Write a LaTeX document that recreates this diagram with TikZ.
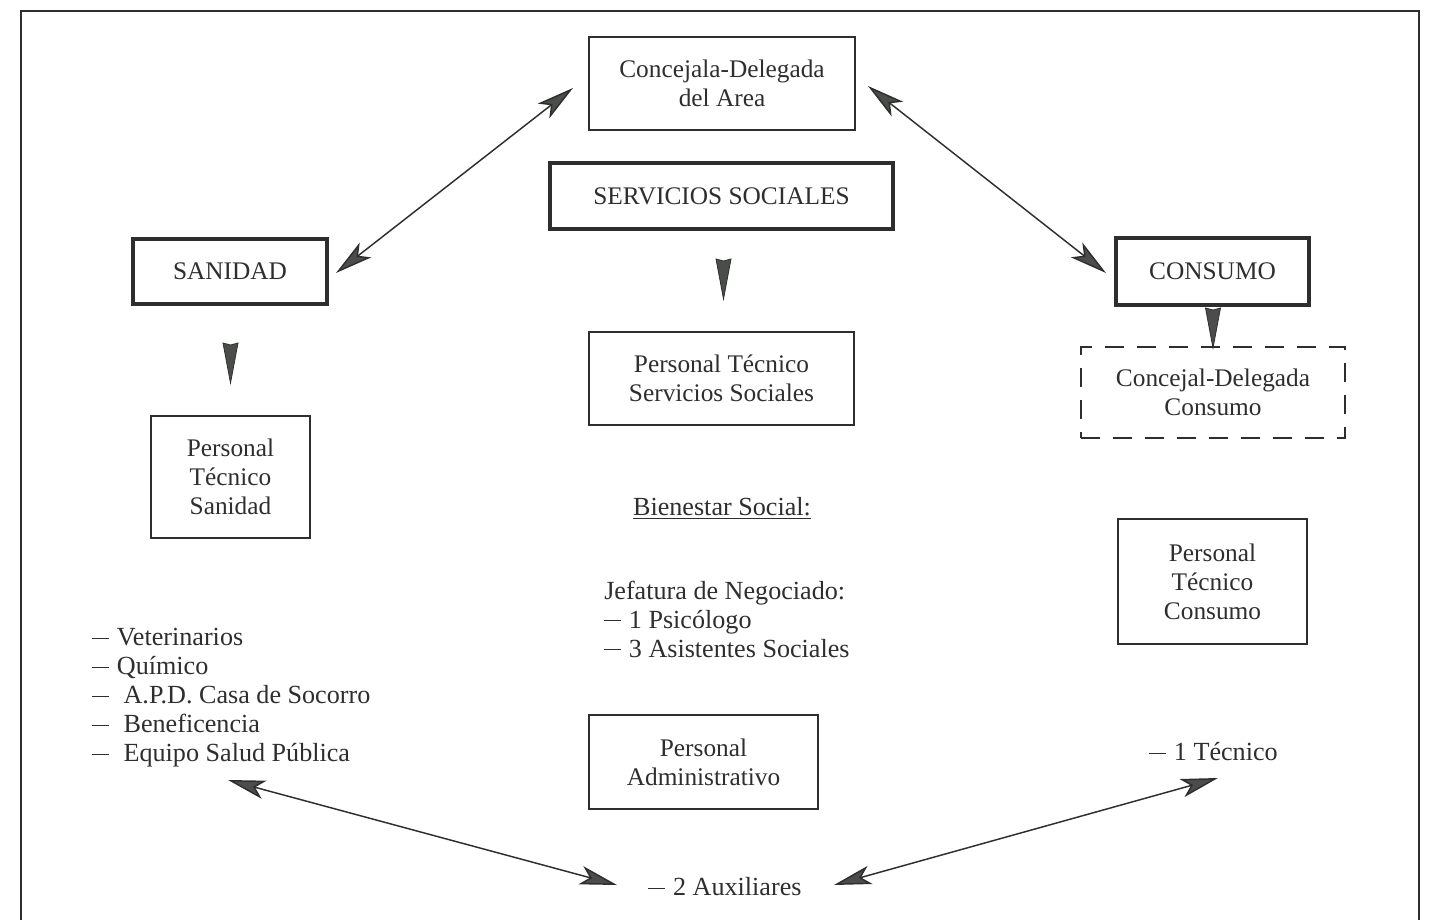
\documentclass[tikz,border=0pt]{standalone}
\usepackage{fontspec}
\setmainfont{Liberation Serif}
\usetikzlibrary{arrows.meta,calc}
\definecolor{ink}{HTML}{2E2E2E}
\definecolor{headgray}{HTML}{4A4D4A}
\newcommand{\dsh}{\rule[0.26em]{12.5pt}{0.85pt}}
\tikzset{
  every node/.style={font=\fontsize{19}{21.75}\selectfont, text=ink},
  thinbox/.style={draw=ink, line width=1.5pt, inner sep=0pt, align=center},
  thickbox/.style={draw=ink, line width=3.6pt, inner sep=0pt, align=center},
  dashbox/.style={draw=ink, line width=1.4pt, dash pattern=on 14pt off 10pt, inner sep=0pt, align=center},
  plain/.style={inner sep=0pt, align=left, font=\fontsize{19.6}{21.75}\selectfont},
  dbl/.style={draw=ink, line width=1.1pt,
    {Stealth[length=28pt,width=14pt,inset=7pt,fill=headgray]}-{Stealth[length=28pt,width=14pt,inset=7pt,fill=headgray]}},
  tri/.style={draw=ink, fill=headgray, line width=0.6pt, line join=miter},
  downtri/.pic={\filldraw[tri] (-7.5,0) -- (0,2) -- (7.5,0) -- (0,40) -- cycle;}
}
\begin{document}
\begin{tikzpicture}[x=0.75pt, y=-0.75pt]
\useasboundingbox (0,0) rectangle (1429,920);
% outer frame
\draw[ink, line width=1.5pt] (21,920) -- (21,11) -- (1419,11) -- (1419,920);

% boxes
\node[thinbox, minimum width=199.5pt, minimum height=69.75pt] (conc) at (722,83.5) {Concejala-Delegada\\del Area};
\node[thickbox, minimum width=257.25pt, minimum height=49.5pt] (serv) at (721.5,196) {SERVICIOS SOCIALES};
\node[thickbox, minimum width=145.5pt, minimum height=48.75pt] (san) at (230,271.5) {SANIDAD};
\node[thickbox, minimum width=144.75pt, minimum height=50.25pt] (cons) at (1212.5,271.5) {CONSUMO};
\node[thinbox, minimum width=198.75pt, minimum height=69.75pt] (ptss) at (721.5,378.5) {Personal Técnico\\Servicios Sociales};
\node[dashbox, minimum width=198pt, minimum height=68.25pt] (cdc) at (1213,392.5) {Concejal-Delegada\\Consumo};
\node[thinbox, minimum width=119.25pt, minimum height=91.5pt] (pts) at (230.5,477) {Personal\\Técnico\\Sanidad};
\node[thinbox, minimum width=141.75pt, minimum height=93.75pt] (ptc) at (1212.5,581.5) {Personal\\Técnico\\Consumo};
\node[thinbox, minimum width=171.75pt, minimum height=70.5pt] (padm) at (703.5,762) {Personal\\Administrativo};

% texts
\node[plain] (bien) at (722,508) {\underline{Bienestar Social:}};
\node[plain, anchor=west] (jef) at (604,619) {Jefatura de Negociado:\\\dsh\hspace{6pt}1 Psicólogo\\\dsh\hspace{6pt}3 Asistentes Sociales};
\node[plain, anchor=west] (list) at (92,698) {\dsh\hspace{6pt}Veterinarios\\\dsh\hspace{6pt}Químico\\\dsh\hspace{11pt}A.P.D. Casa de Socorro\\\dsh\hspace{11pt}Beneficencia\\\dsh\hspace{11pt}Equipo Salud Pública};
\node[plain] (tec) at (1213.5,752) {\dsh\hspace{6pt}1 Técnico};
\node[plain] (aux) at (725,887) {\dsh\hspace{6pt}2 Auxiliares};

% double arrows
\draw[dbl] ($(conc.center)+(-149,4.5)$) -- ($(san.center)+(106,1.5)$);
\draw[dbl] ($(conc.center)+(146,2.5)$) -- ($(cons.center)+(-106.5,1.5)$);
\draw[dbl] ($(list.west)+(136,82)$) -- ($(aux.center)+(-108,-2)$);
\draw[dbl] ($(tec.center)+(4.5,26)$) -- ($(aux.center)+(109,-2)$);

% down arrowheads
\pic at ($(san.center)+(0.5,71.5)$) {downtri};
\pic at ($(serv.center)+(2,63)$) {downtri};
\pic at ($(cons.center)+(0.5,36.5)$) {downtri};
\end{tikzpicture}
\end{document}
